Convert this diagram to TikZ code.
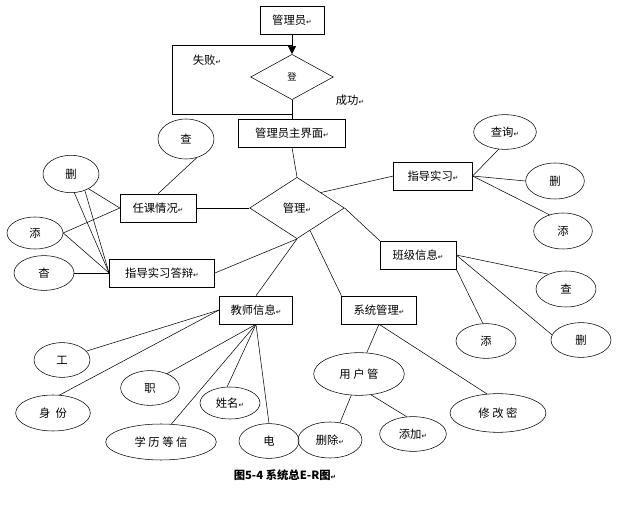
\documentclass[tikz,border=0pt]{standalone}
\usepackage{fontspec}
\setmainfont{Noto Sans CJK SC}
\newfontfamily\symfont{DejaVu Sans}
\usetikzlibrary{shapes.geometric,arrows.meta}
\newcommand{\ret}{{\symfont\tiny ↵}}

\begin{document}
\begin{tikzpicture}[
  x=0.75pt, y=-0.75pt,
  every node/.style={font=\fontsize{8.5}{10}\selectfont},
  ent/.style={draw, minimum height=21pt, inner sep=2pt},
  attr/.style={draw, ellipse, inner sep=0pt},
  rel/.style={draw, diamond, aspect=1.55, inner sep=0pt},
  line/.style={black}
]
\useasboundingbox (0,0) rectangle (637,506);

% top: login
\node[ent, minimum width=48pt] (admin) at (292,20) {管理员\ret};
\node[rel, minimum width=62pt, minimum height=34pt] (login) at (292,77) {\scriptsize 登};
\node[ent, minimum width=80pt] (home) at (292,133) {管理员主界面\ret};
\node (fail) at (207,60) {失败\ret};
\node (ok) at (350,100) {成功\ret};
\coordinate (loopa) at (292,114);
\coordinate (loopb) at (172,114);
\coordinate (loopc) at (172,45);
\coordinate (loopd) at (292,45);

% central relation
\node[rel, minimum width=71pt, minimum height=46pt] (manage) at (297,208) {管理\ret};

% entities
\node[ent, minimum width=57pt] (course) at (158,208) {任课情况\ret};
\node[ent, minimum width=79pt] (defense) at (162,273) {指导实习答辩\ret};
\node[ent, minimum width=59pt] (intern) at (433,176) {指导实习\ret};
\node[ent, minimum width=57pt] (class) at (418,255) {班级信息\ret};
\node[ent, minimum width=55pt] (teacher) at (256,310) {教师信息\ret};
\node[ent, minimum width=56pt] (system) at (379,310) {系统管理\ret};

% attributes
\node[attr, minimum width=42pt, minimum height=30pt] (cq) at (186,139) {查};
\node[attr, minimum width=42pt, minimum height=28pt] (cs) at (71,174) {删};
\node[attr, minimum width=42pt, minimum height=24pt] (ct) at (35,233) {添};
\node[attr, minimum width=45pt, minimum height=26pt] (cc) at (44,273) {杳};
\node[attr, minimum width=47pt, minimum height=26pt] (iq) at (505,132) {查询\ret};
\node[attr, minimum width=44pt, minimum height=27pt] (is) at (555,181) {删};
\node[attr, minimum width=44pt, minimum height=27pt] (it) at (563,231) {添};
\node[attr, minimum width=45pt, minimum height=27pt] (kq) at (566,289) {查};
\node[attr, minimum width=45pt, minimum height=26pt] (ks) at (581,340) {删};
\node[attr, minimum width=45pt, minimum height=26pt] (kt) at (486,341) {添};
\node[attr, minimum width=42pt, minimum height=26pt] (tg) at (62,360) {工};
\node[attr, minimum width=56pt, minimum height=27pt] (tid) at (53,413) {身\ \ 份};
\node[attr, minimum width=44pt, minimum height=26pt] (tz) at (150,388) {职};
\node[attr, minimum width=83pt, minimum height=27pt] (tx) at (161,442) {学\ 历\ 等\ 信};
\node[attr, minimum width=45pt, minimum height=24pt] (tn) at (230,403) {姓名\ret};
\node[attr, minimum width=45pt, minimum height=26pt] (te) at (269,441) {电};
\node[attr, minimum width=68pt, minimum height=32pt] (user) at (359,374) {用\ 户\ 管};
\node[attr, minimum width=72pt, minimum height=29pt] (pwd) at (498,413) {修\ 改\ 密};
\node[attr, minimum width=48pt, minimum height=27pt] (udel) at (330,440) {删除\ret};
\node[attr, minimum width=50pt, minimum height=26pt] (uadd) at (413,434) {添加\ret};

% caption
\node[font=\fontsize{8.5}{10}\selectfont\bfseries] (cap) at (285,475) {图5-4 系统总E-R图\ret};

% login flow
\draw[line] (admin.south) -- (loopd);
\draw[-{Triangle[length=6pt,width=6pt]}] (loopd) -- (login.north);
\draw[line] (login.south) -- (home.north);
\draw[line] (loopa) -- (loopb) -- (loopc) -- (loopd);
\draw[line] (home.south) -- (manage.north);

% relations
\draw[line] (manage.west) -- (course.east);
\draw[line] (manage.south) -- (defense.east);
\draw[line] (manage.east) -- (class.north west);
\draw[line] (manage.north east) -- (intern.west);
\draw[line] (manage.south) -- (teacher.north);
\draw[line] (manage.-60) -- (system.north west);

% attribute lines
\draw[line] (cq.-60) -- (course.north);
\draw[line] (cs.-40) -- (course.west);
\draw[line] (cs.-80) -- (defense.west);
\draw[line] (cs.-50) -- (defense.west);
\draw[line] (ct.east) -- (course.west);
\draw[line] (ct.east) -- (defense.west);
\draw[line] (cc.east) -- (defense.west);
\draw[line] (intern.east) -- (iq.250);
\draw[line] (intern.east) -- (is.west);
\draw[line] (intern.east) -- (it.130);
\draw[line] (class.east) -- (kq.140);
\draw[line] (class.east) -- (ks.170);
\draw[line] (class.south east) -- (kt.100);
\draw[line] (teacher.west) -- (tg.20);
\draw[line] (teacher.west) -- (tid.70);
\draw[line] (teacher.south) -- (tz.40);
\draw[line] (teacher.south) -- (tx.60);
\draw[line] (teacher.south) -- (tn.100);
\draw[line] (teacher.south) -- (te.north);
\draw[line] (system.south) -- (user.70);
\draw[line] (system.south) -- (pwd.120);
\draw[line] (user.250) -- (udel.60);
\draw[line] (user.300) -- (uadd.110);
\end{tikzpicture}
\end{document}
